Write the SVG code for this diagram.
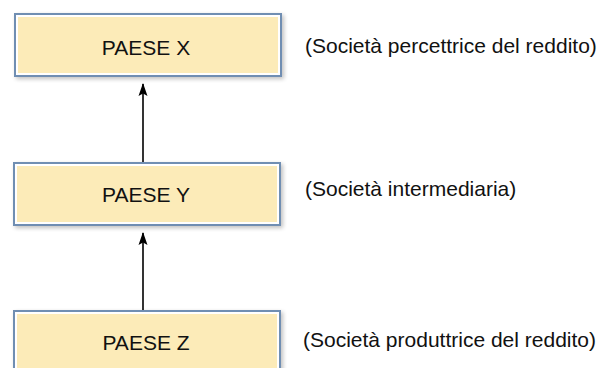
<svg xmlns="http://www.w3.org/2000/svg" width="605" height="368" viewBox="0 0 605 368">
<defs>
<filter id="sh" x="-5%" y="-10%" width="115%" height="130%">
<feGaussianBlur in="SourceAlpha" stdDeviation="2"/>
<feOffset dx="2" dy="2" result="b"/>
<feComponentTransfer><feFuncA type="linear" slope="0.25"/></feComponentTransfer>
<feMerge><feMergeNode/><feMergeNode in="SourceGraphic"/></feMerge>
</filter>
<marker id="ah" markerWidth="14" markerHeight="10" refX="13" refY="5" orient="auto" markerUnits="userSpaceOnUse" viewBox="0 0 14 10">
<path d="M14,5 L1,0.5 L3.5,5 L1,9.5 Z" fill="#000"/>
</marker>
</defs>
<style>
.box{fill:#fcebb8;stroke:#6f8eb2;stroke-width:2}
.inner{fill:none;stroke:#ffffff;stroke-width:2}
.t{font-family:"Liberation Sans",Arial,sans-serif;font-size:21px;fill:#111}
.c{stroke:#000;stroke-width:1.6;fill:none}
</style>
<rect width="605" height="368" fill="#fff"/>
<g id="connectors">
<line class="c" x1="143" y1="162" x2="143" y2="84" marker-end="url(#ah)"/>
<line class="c" x1="143" y1="310" x2="143" y2="233" marker-end="url(#ah)"/>
</g>
<g id="paese-x">
<rect class="box" x="15" y="14" width="266" height="62" filter="url(#sh)"/>
<rect class="inner" x="17" y="16" width="262" height="58"/>
<text class="t" x="146" y="55" text-anchor="middle">PAESE X</text>
</g>
<g id="paese-y">
<rect class="box" x="14" y="163" width="266" height="62" filter="url(#sh)"/>
<rect class="inner" x="16" y="165" width="262" height="58"/>
<text class="t" x="146" y="202" text-anchor="middle">PAESE Y</text>
</g>
<g id="paese-z">
<rect class="box" x="14" y="311" width="266" height="62" filter="url(#sh)"/>
<rect class="inner" x="16" y="313" width="262" height="58"/>
<text class="t" x="146" y="350" text-anchor="middle">PAESE Z</text>
</g>
<g id="labels">
<text class="t" x="305" y="53">(Società percettrice del reddito)</text>
<text class="t" x="305" y="196">(Società intermediaria)</text>
<text class="t" x="303" y="347">(Società produttrice del reddito)</text>
</g>
</svg>
